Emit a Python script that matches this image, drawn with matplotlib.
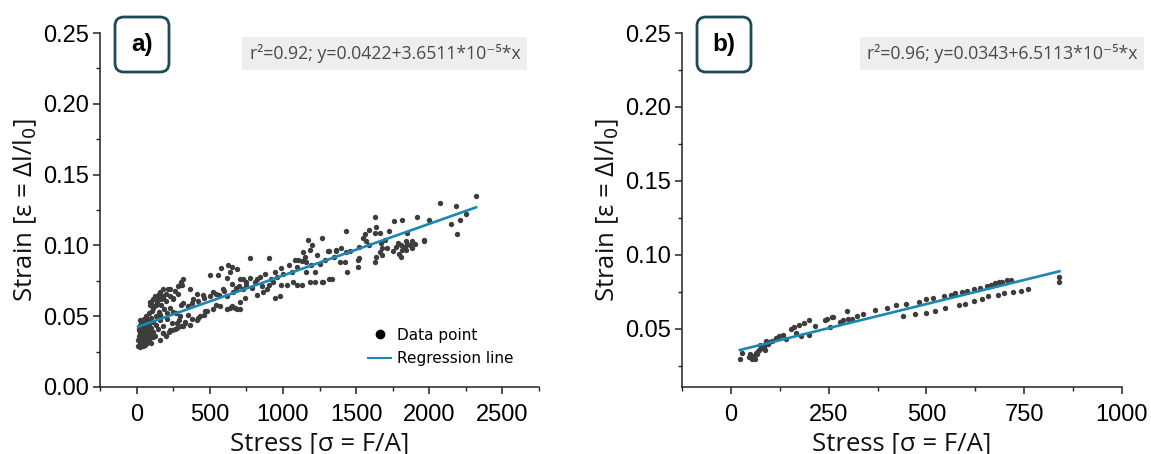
import matplotlib
matplotlib.use("Agg")
import matplotlib.pyplot as plt
from matplotlib.patches import FancyBboxPatch
from matplotlib.lines import Line2D
from matplotlib.ticker import MultipleLocator
from matplotlib.transforms import IdentityTransform

# Sample A: stress / strain readings
stress_a = [
    10, 15, 18, 20, 22, 25, 28, 30, 32, 35, 38, 40, 42, 45, 48, 50, 52, 55, 58, 60,
    62, 65, 68, 70, 72, 75, 80, 82, 85, 88, 90, 95, 100, 105, 110, 115, 120, 125, 130, 135,
    140, 145, 150, 160, 170, 180, 190, 200, 210, 220, 230, 240, 250, 260, 270, 280, 290, 300,
    305, 294, 225, 180, 178, 145, 100, 90, 110, 68, 157,
    362, 410, 500, 555, 580, 622, 636, 615, 650,
    246, 315, 383, 451, 520, 500, 588, 656,
    157, 205, 246, 294, 348, 410, 362, 315,
    110, 178, 225, 273, 157, 567, 615, 683, 636,
    89, 123, 157, 212, 178, 314, 307, 273, 330, 430, 470, 540,
    12, 25, 35, 45, 55, 30, 40, 50, 60, 70, 15, 25, 35, 45, 55, 65, 75, 85, 95, 100,
    110, 130, 150, 170, 200, 230, 260, 280,
    180, 200, 240, 300, 330, 380, 420, 460, 480, 520,
    350, 380, 420, 460, 540, 560, 600, 620, 680, 700,
    750, 790, 840, 880, 920, 960, 1000,
    1168, 1202, 1270, 1182, 1134, 1236, 1305, 1366,
    1100, 1127, 1161, 1195, 1093, 908, 772, 990, 943,
    1059, 1066, 1161, 1216, 1182, 1216, 1270, 1318, 1127, 1093, 1031, 990,
    929, 908, 826, 772, 724, 806, 751, 854, 888, 683, 649, 704,
    724, 738, 704, 670, 704, 649, 826, 861, 943, 977,
    1040, 1080, 1150, 1250, 1290, 1350, 1400,
    2070, 1626, 1919, 2001, 1762, 1817, 1434, 1591, 1626, 1660, 1639, 1728,
    1544, 1571, 1851, 1673, 1783, 1844, 1885, 1967, 1523, 1591,
    1455, 1434, 1366, 1318, 1680, 1714, 1776, 1810, 1831, 1865, 1844, 1817,
    1660, 1680, 1639, 1810, 1387, 1421, 1510, 1523, 1510, 1626, 1441, 1332, 1271,
    1560, 1700, 1750, 1790, 1850, 1880, 1900,
    2180, 2210, 2190, 2320, 2250, 2150, 1967,
]
strain_a = [
    0.033, 0.036, 0.040, 0.031, 0.044, 0.038, 0.034, 0.041, 0.030, 0.046, 0.036, 0.039, 0.033, 0.043, 0.031, 0.048, 0.037, 0.041, 0.034, 0.045,
    0.032, 0.050, 0.038, 0.042, 0.035, 0.047, 0.040, 0.033, 0.052, 0.044, 0.037, 0.049, 0.042, 0.054, 0.039, 0.046, 0.057, 0.036, 0.050, 0.044,
    0.060, 0.041, 0.053, 0.047, 0.058, 0.043, 0.055, 0.061, 0.048, 0.039, 0.056, 0.045, 0.063, 0.041, 0.052, 0.066, 0.047, 0.058,
    0.074, 0.072, 0.069, 0.069, 0.064, 0.063, 0.060, 0.058, 0.056, 0.032, 0.051,
    0.069, 0.066, 0.079, 0.079, 0.084, 0.086, 0.081, 0.077, 0.073,
    0.062, 0.059, 0.062, 0.065, 0.067, 0.064, 0.069, 0.067,
    0.051, 0.052, 0.053, 0.050, 0.051, 0.047, 0.044, 0.043,
    0.035, 0.038, 0.040, 0.042, 0.033, 0.057, 0.055, 0.055, 0.056,
    0.060, 0.064, 0.067, 0.069, 0.063, 0.076, 0.072, 0.045, 0.046, 0.050, 0.054, 0.058,
    0.029, 0.028, 0.031, 0.029, 0.030, 0.037, 0.035, 0.034, 0.038, 0.031, 0.041, 0.047, 0.043, 0.039, 0.044, 0.036, 0.033, 0.040, 0.035, 0.031,
    0.062, 0.058, 0.066, 0.062, 0.066, 0.064, 0.068, 0.071,
    0.038, 0.036, 0.040, 0.043, 0.045, 0.048, 0.049, 0.051, 0.054, 0.055,
    0.057, 0.059, 0.061, 0.063, 0.066, 0.065, 0.068, 0.064, 0.070, 0.071,
    0.072, 0.070, 0.078, 0.080, 0.076, 0.078, 0.080,
    0.104, 0.100, 0.105, 0.097, 0.095, 0.093, 0.096, 0.097,
    0.090, 0.089, 0.088, 0.086, 0.085, 0.091, 0.091, 0.084, 0.081,
    0.081, 0.074, 0.081, 0.081, 0.074, 0.074, 0.074, 0.076, 0.072, 0.072, 0.072, 0.072,
    0.074, 0.072, 0.076, 0.077, 0.076, 0.074, 0.074, 0.071, 0.069, 0.083, 0.085, 0.076,
    0.069, 0.063, 0.060, 0.056, 0.055, 0.057, 0.065, 0.067, 0.063, 0.064,
    0.086, 0.090, 0.092, 0.087, 0.090, 0.092, 0.098,
    0.130, 0.120, 0.120, 0.118, 0.117, 0.118, 0.110, 0.111, 0.109, 0.109, 0.113, 0.110,
    0.105, 0.103, 0.109, 0.102, 0.102, 0.103, 0.103, 0.104, 0.099, 0.100,
    0.096, 0.095, 0.096, 0.096, 0.098, 0.098, 0.099, 0.100, 0.099, 0.100, 0.097, 0.097,
    0.095, 0.093, 0.092, 0.092, 0.088, 0.088, 0.090, 0.091, 0.085, 0.088, 0.081, 0.076, 0.074,
    0.108, 0.104, 0.096, 0.094, 0.101, 0.098, 0.101,
    0.128, 0.118, 0.108, 0.135, 0.122, 0.115, 0.103,
]

# Sample B: stress / strain readings
stress_b = [
    23, 28, 46, 55, 59, 64, 72, 77, 85, 90, 98, 90, 116, 124, 134, 142,
    50, 58, 66, 70, 80, 62, 75, 88, 95, 105,
    155, 162, 167, 175, 180, 188, 201, 201, 214, 240, 247, 258, 260, 253,
    278, 286, 296, 299, 309, 322, 338, 368,
    400, 422, 448, 482, 500, 518, 545, 562, 574, 592, 604, 622, 638, 656, 664, 676, 686, 694, 706, 716,
    440, 472, 498, 522, 548, 582, 598, 622, 642, 658, 682, 698, 722, 742, 760,
    840, 840,
]
strain_b = [
    0.0297, 0.034, 0.031, 0.030, 0.032, 0.034, 0.036, 0.037, 0.038, 0.040, 0.041, 0.042, 0.044, 0.045, 0.046, 0.043,
    0.033, 0.031, 0.033, 0.035, 0.037, 0.030, 0.039, 0.036, 0.040, 0.042,
    0.050, 0.051, 0.047, 0.053, 0.045, 0.054, 0.056, 0.046, 0.052, 0.056, 0.057, 0.058, 0.058, 0.051,
    0.055, 0.056, 0.062, 0.057, 0.057, 0.059, 0.060, 0.063,
    0.064, 0.066, 0.067, 0.068, 0.070, 0.071, 0.072, 0.073, 0.074, 0.075, 0.076, 0.077, 0.078, 0.079, 0.080, 0.081, 0.082, 0.082, 0.083, 0.083,
    0.059, 0.060, 0.061, 0.062, 0.064, 0.066, 0.067, 0.069, 0.070, 0.072, 0.073, 0.074, 0.075, 0.076, 0.077,
    0.085, 0.082,
]

# Linear fits (intercept, slope, r^2)
fit_a = (0.0422, 3.6511e-5, 0.92)
fit_b = (0.0343, 6.5113e-5, 0.96)

POINT_COLOR = "#3d3d3d"
LINE_COLOR = "#1a87b5"
BOX_EDGE = "#1d4a56"
TICK_FONT = "Liberation Sans"
LABEL_FONT = ["Open Sans", "DejaVu Sans"]


def style_axes(ax, xlim, ylim, xmajor, xminor):
    ax.set_xlim(*xlim)
    ax.set_ylim(*ylim)
    for side in ("top", "right"):
        ax.spines[side].set_visible(False)
    for side in ("left", "bottom"):
        ax.spines[side].set_color("#222222")
        ax.spines[side].set_linewidth(1.1)
    ax.xaxis.set_major_locator(MultipleLocator(xmajor))
    ax.xaxis.set_minor_locator(MultipleLocator(xminor))
    ax.yaxis.set_major_locator(MultipleLocator(0.05))
    ax.yaxis.set_minor_locator(MultipleLocator(0.025))
    ax.tick_params(which="major", length=5, width=1.1, color="#222222", labelsize=17, pad=3)
    ax.tick_params(which="minor", length=3, width=1.0, color="#222222")
    ax.tick_params(axis="x", which="major", pad=7)
    for lab in ax.get_xticklabels() + ax.get_yticklabels():
        lab.set_fontfamily(TICK_FONT)
    ax.set_xlabel("Stress [σ = F/A]", fontsize=18.5, family=LABEL_FONT, labelpad=4, color="#111111")
    ax.set_ylabel("Strain [ε = Δl/l$_0$]", fontsize=18.5, family=LABEL_FONT, labelpad=3, color="#111111")


def draw_panel(ax, stress, strain, fit, box_x):
    b0, b1, r2 = fit
    ax.scatter(stress, strain, s=15, color=POINT_COLOR, linewidths=0, zorder=2)
    xs = [min(stress), max(stress)]
    ax.plot(xs, [b0 + b1 * x for x in xs], color=LINE_COLOR, lw=1.9, zorder=3)

    mant = f"{b1 * 1e5:.4f}"
    label = f"r²={r2:.2f}; y={b0:.4f}+{mant}*10⁻⁵*x"
    ax.text(box_x, 0.943, label, transform=ax.transAxes, ha="center", va="center",
            fontsize=12.7, color="#4a4a4a", family=LABEL_FONT,
            bbox=dict(boxstyle="square,pad=0.4", facecolor="#eeeeee", edgecolor="none"))


def panel_tag(fig, text, x0, y_top):
    # rounded tag box positioned in pixel units
    h = fig.get_figheight() * fig.dpi
    w_box, h_box = 54, 55
    box = FancyBboxPatch((x0, h - y_top - h_box), w_box, h_box,
                         boxstyle="round,pad=0,rounding_size=9",
                         transform=IdentityTransform(), facecolor="white",
                         edgecolor=BOX_EDGE, linewidth=2.0, zorder=5)
    fig.patches.append(box)
    fig.text((x0 + w_box / 2) / (fig.get_figwidth() * fig.dpi),
             (h - y_top - h_box / 2) / h, text, ha="center", va="center",
             fontsize=17.5, fontweight="bold", family="Liberation Sans", zorder=6)


fig = plt.figure(figsize=(11.51, 4.54), dpi=100)
ax_a = fig.add_axes([0.0869, 0.1476, 0.3814, 0.7797])
ax_b = fig.add_axes([0.5925, 0.1476, 0.3823, 0.7797])

draw_panel(ax_a, stress_a, strain_a, fit_a, 0.649)
draw_panel(ax_b, stress_b, strain_b, fit_b, 0.727)
style_axes(ax_a, (-250, 2750), (0, 0.25), 500, 250)
style_axes(ax_b, (-125, 1000), (0.0108, 0.25), 250, 125)

handles = [
    Line2D([], [], marker="o", linestyle="none", color="black", markersize=6),
    Line2D([], [], color=LINE_COLOR, lw=1.5),
]
ax_a.legend(handles, ["Data point", "Regression line"], loc="lower left",
            bbox_to_anchor=(0.58, 0.02), frameon=False,
            handlelength=1.5, handletextpad=0.4, labelspacing=0.55,
            prop={"family": "DejaVu Sans", "size": 11})

panel_tag(fig, "a)", 115, 17)
panel_tag(fig, "b)", 697, 17)

fig.savefig("out.png", dpi=100)
